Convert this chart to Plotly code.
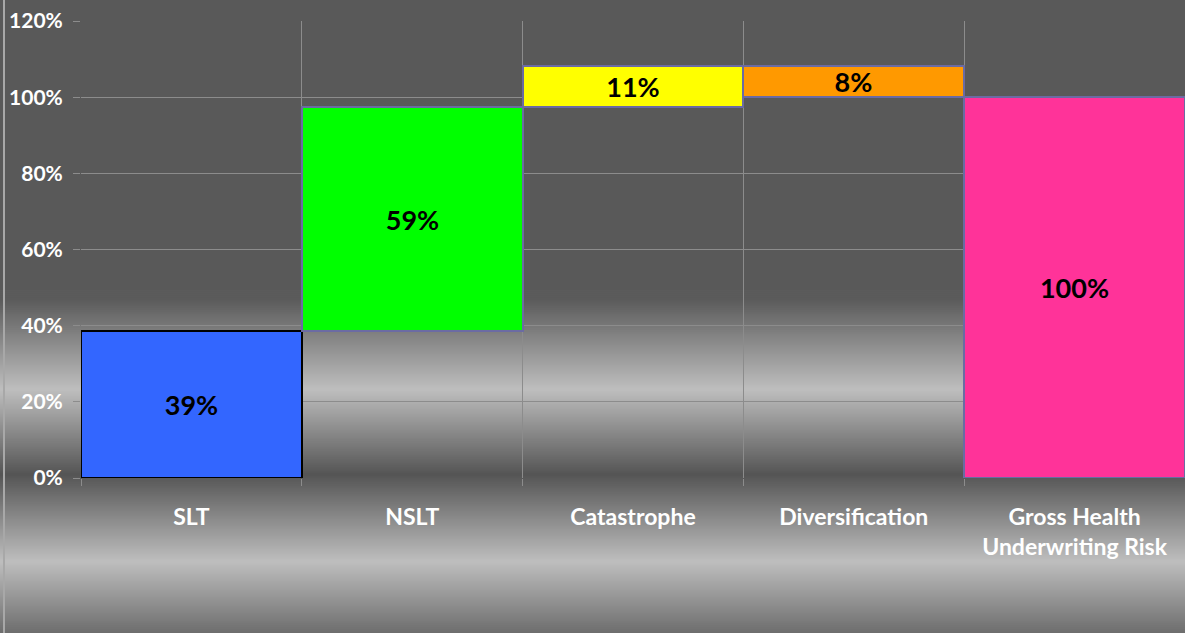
import plotly.graph_objects as go

# ---- data ----
categories = ["SLT", "NSLT", "Catastrophe", "Diversification", "Gross Health<br>Underwriting Risk"]
values = [0.386, 0.588, 0.107, -0.081, 1.000]
is_total = [False, False, False, False, True]
bar_colors = ["#3366FF", "#00FF00", "#FFFF00", "#FF9900", "#FF3399"]
line_colors = ["#000000", "#6B6BA3", "#6B6BA3", "#6B6BA3", "#6B6BA3"]
y_ticks = [0, 0.2, 0.4, 0.6, 0.8, 1.0, 1.2]

# waterfall bases / heights
bases, heights, labels = [], [], []
cum = 0.0
for v, tot in zip(values, is_total):
    if tot:
        bases.append(0.0)
        heights.append(v)
    else:
        if v >= 0:
            bases.append(cum)
            heights.append(v)
        else:
            bases.append(cum + v)
            heights.append(-v)
        cum += v
    labels.append(f"{abs(v) * 100:.0f}%")

W, H = 1185, 633
ML, MR, MT, MB = 81, 0, 21, 155
PW, PH = W - ML - MR, H - MT - MB

def px_to_paper_y(py):
    return (H - MB - py) / PH

def px_to_paper_x(px):
    return (px - ML) / PW

# metallic background gradient stops (pixel y, gray level)
stops = [(0, 0x59), (300, 0x5B), (390, 0xBE), (475, 0x55), (562, 0xBE), (633, 0x6E)]

def gray_at(py):
    for (y0, g0), (y1, g1) in zip(stops[:-1], stops[1:]):
        if y0 <= py <= y1:
            t = (py - y0) / (y1 - y0) if y1 > y0 else 0
            return round(g0 + (g1 - g0) * t)
    return stops[-1][1]

shapes = []
step = 2
for py in range(290, H, step):
    g = gray_at(py + step / 2)
    shapes.append(dict(
        type="rect", xref="paper", yref="paper", layer="below",
        x0=px_to_paper_x(0), x1=px_to_paper_x(W),
        y0=px_to_paper_y(py + step + 0.5), y1=px_to_paper_y(py - 0.5),
        fillcolor=f"rgb({g},{g},{g})", line=dict(width=0),
    ))
# left border of chart area
shapes.append(dict(
    type="rect", xref="paper", yref="paper", layer="below",
    x0=px_to_paper_x(3), x1=px_to_paper_x(5),
    y0=px_to_paper_y(H), y1=px_to_paper_y(0),
    fillcolor="#A8A8A8", line=dict(width=0),
))

fig = go.Figure()
fig.add_trace(go.Bar(
    x=categories, y=heights, base=bases, width=1,
    marker=dict(color=bar_colors, line=dict(color=line_colors, width=2)),
    text=labels, textposition="inside", insidetextanchor="middle",
    textangle=0, constraintext="none",
    textfont=dict(family="Lato", size=27, color="#000000", weight="bold"),
    hoverinfo="skip",
))

grid_col = "#8C8C8C"
fig.update_layout(
    width=W, height=H,
    margin=dict(l=ML, r=MR, t=MT, b=MB, pad=0),
    paper_bgcolor="#595959", plot_bgcolor="rgba(0,0,0,0)",
    showlegend=False, bargap=0,
    shapes=shapes,
    xaxis=dict(
        type="category", range=[-0.5, 4.5], tickson="boundaries",
        showgrid=True, gridcolor=grid_col, gridwidth=1,
        ticks="outside", ticklen=7, tickcolor=grid_col,
        showline=False, zeroline=False,
        tickfont=dict(family="Lato", size=23, color="#FFFFFF", weight="bold"),
        ticklabelstandoff=23,
    ),
    yaxis=dict(
        range=[0, 1.2], tickvals=y_ticks, tickformat=".0%",
        showgrid=True, gridcolor=grid_col, gridwidth=1,
        ticks="outside", ticklen=7, tickcolor=grid_col,
        showline=False, zeroline=False,
        tickfont=dict(family="Lato", size=21, color="#FFFFFF", weight="bold"),
        ticklabelstandoff=6,
    ),
)

fig.write_html(
    "out.html",
    config={"displayModeBar": False},
    post_script="document.body.style.margin='0';document.body.style.overflow='hidden';",
)
